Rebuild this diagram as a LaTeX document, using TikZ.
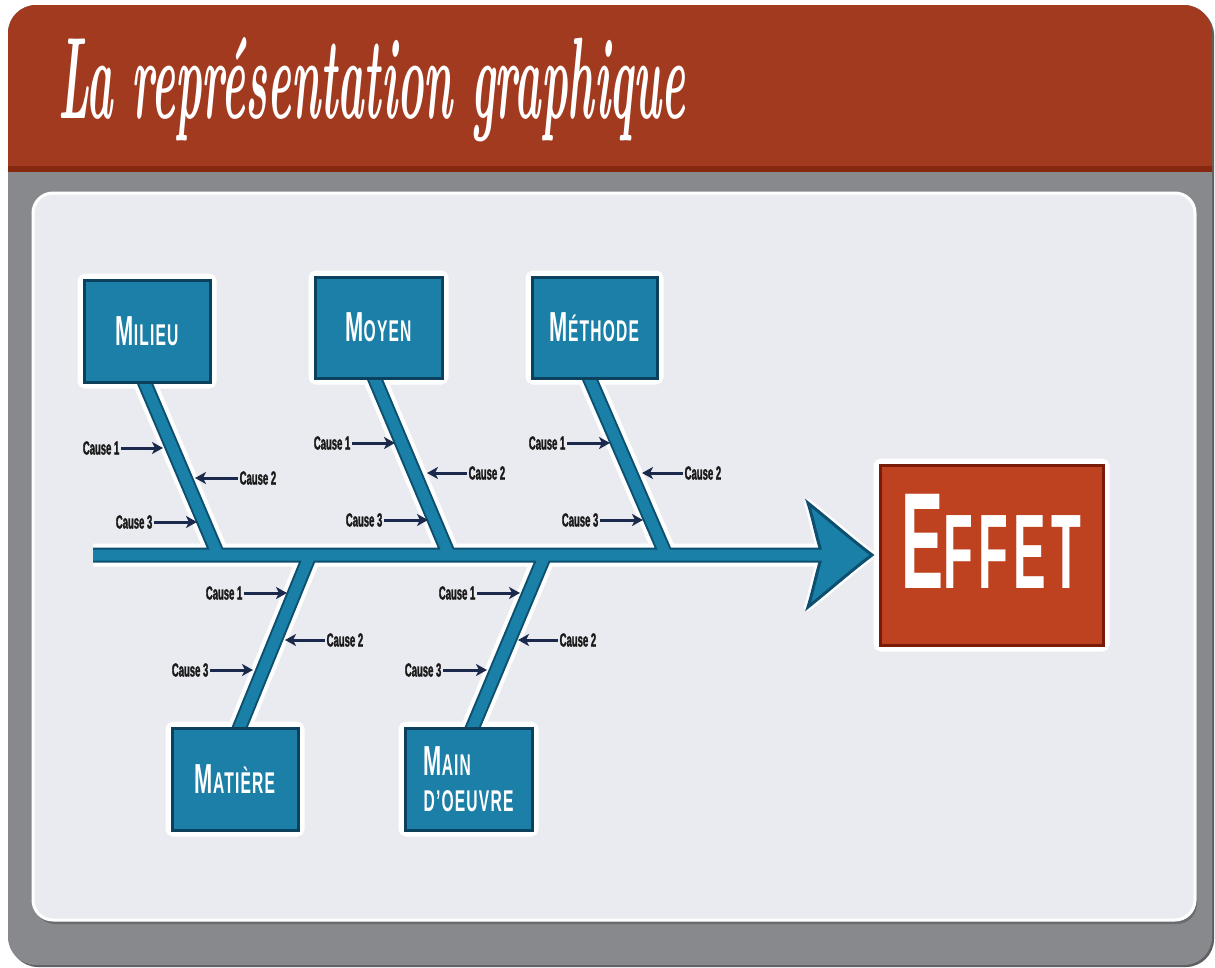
\documentclass[tikz,border=0pt]{standalone}
\usepackage[T1,TU]{fontenc}
\usepackage{fontspec}
\usepackage{graphicx}
\usetikzlibrary{arrows.meta,calc}
\newfontfamily\condf[FakeStretch=0.52,LetterSpace=4]{Liberation Sans}
\newfontfamily\causef[FakeStretch=0.5,FakeBold=1.5]{Liberation Sans}
\newfontfamily\effetf[FakeStretch=0.46,LetterSpace=5]{Liberation Sans}
\newcommand\titlefont{\bfseries\itshape}
\newcommand\boxlbl[2]{{\fontsize{42}{42}\selectfont #1}{\fontsize{30}{30}\selectfont #2}}
\pgfdeclarelayer{bg}\pgfdeclarelayer{mid}\pgfsetlayers{bg,mid,main}
\definecolor{headred}{HTML}{A23A1F}
\definecolor{headdark}{HTML}{86270F}
\definecolor{framegray}{HTML}{88898D}
\definecolor{framesh}{HTML}{5E5F62}
\definecolor{panel}{HTML}{EAEBF0}
\definecolor{panelsh}{HTML}{6A6B6F}
\definecolor{boxblue}{HTML}{1C7FA7}
\definecolor{boxedge}{HTML}{0C415E}
\definecolor{bonedark}{HTML}{0D4F6F}
\definecolor{boneblue}{HTML}{1B80A8}
\definecolor{effred}{HTML}{BF4220}
\definecolor{effedge}{HTML}{7A1A08}
\definecolor{navy}{HTML}{1B2A4C}
\definecolor{causetext}{HTML}{1A1A1A}
\newcommand\arrowhd{(822,555) .. controls (816,535) and (812,515) .. (808,503) .. controls (834,524) and (852,540) .. (872,555) .. controls (852,570) and (834,586) .. (808,607) .. controls (812,595) and (816,575) .. (822,555) -- cycle}
\newcommand\allbones[1]{\draw[#1] (tail) -- (headin)
  ($(t1)!-10pt!(j1)$) -- (j1) ($(t2)!-10pt!(j2)$) -- (j2) ($(t3)!-10pt!(j3)$) -- (j3)
  ($(t4)!-10pt!(j4)$) -- (j4) ($(t5)!-10pt!(j5)$) -- (j5);}
\newcommand\causeL[5]{%
  \node[causelbl,anchor=east] (#1) at (#2,#3) {#5};
  \coordinate (#1t) at (#4,#3);
  \draw[causearr] (#1) -- (#1t);}
\newcommand\causeR[5]{%
  \node[causelbl,anchor=west] (#1) at (#2,#3) {#5};
  \coordinate (#1t) at (#4,#3);
  \draw[causearr] (#1) -- (#1t);}
\begin{document}
\begin{tikzpicture}[x=1pt,y=-1pt,
  catbox/.style={fill=boxblue, draw=boxedge, line width=3pt, inner sep=0pt, text=white,
     font=\condf\bfseries\fontsize{30}{36}\selectfont, minimum width=126pt, minimum height=102pt},
  effbox/.style={fill=effred, draw=effedge, line width=3pt, inner sep=0pt, text=white,
     font=\effetf\bfseries, minimum width=223pt, minimum height=180pt},
  causelbl/.style={inner sep=1.5pt, text=causetext, font=\causef\bfseries\fontsize{19}{19}\selectfont},
  causearr/.style={draw=navy, line width=3pt, -{Stealth[length=11pt,width=12pt,inset=3pt]}}]
\useasboundingbox (0,0) rectangle (1215,967);
\begin{pgfonlayer}{bg}
\fill[white] (0,0) rectangle (1215,967);
\fill[framesh, rounded corners=28pt] (10,7) rectangle (1214,967);
\begin{scope}
\clip[rounded corners=28pt] (8,5) rectangle (1212,965);
\fill[framegray] (0,0) rectangle (1215,967);
\fill[headred] (0,0) rectangle (1215,172);
\fill[headdark] (0,166) rectangle (1215,172);
\end{scope}
\fill[panelsh, rounded corners=20pt] (35,197) rectangle (1197,924);
\filldraw[fill=panel, draw=white, line width=3pt, rounded corners=20pt] (33,193) rectangle (1195,920);
\end{pgfonlayer}

\node[anchor=base west, text=white, inner sep=0pt] (title) at (58,118)
  {\resizebox{627pt}{81pt}{\titlefont La représentation graphique}};

\node[catbox] (milieu) at (147,331) {\boxlbl{M}{ILIEU}};
\node[catbox, minimum width=127pt, minimum height=101pt] (moyen) at (378.5,327.5) {\boxlbl{M}{OYEN}};
\node[catbox, minimum width=125pt, minimum height=101pt] (methode) at (594.5,327.5) {\boxlbl{M}{ÉTHODE}};
\node[catbox] (matiere) at (235,779) {\boxlbl{M}{ATIÈRE}};
\node[catbox, minimum width=127pt, align=left] (main) at (468.5,779) {\boxlbl{M}{AIN}\\D’OEUVRE};
\node[effbox, text height=98pt, text depth=32pt] (effet) at (991.5,555)
  {{\fontsize{137}{137}\selectfont E}{\fontsize{106}{106}\selectfont FFET}};

\begin{pgfonlayer}{bg}
\foreach \n in {milieu,moyen,methode,matiere,main,effet}
  \draw[white, line width=10pt, rounded corners=3pt] (\n.south west) rectangle (\n.north east);
\end{pgfonlayer}

\coordinate (tail) at (93,555);
\coordinate (headin) at (835,555);
\coordinate (j1) at (218,555);
\coordinate (j2) at (449,555);
\coordinate (j3) at (666,555);
\coordinate (j4) at (310,555);
\coordinate (j5) at (545,555);
\coordinate (t1) at ([xshift=-2pt]milieu.south);
\coordinate (t2) at ([xshift=-3.5pt]moyen.south);
\coordinate (t3) at ([xshift=-4.5pt]methode.south);
\coordinate (t4) at ([xshift=5pt]matiere.north);
\coordinate (t5) at ([xshift=4.5pt]main.north);

\begin{pgfonlayer}{mid}
\allbones{white, line width=23pt}
\filldraw[white, line width=8pt, line join=round] \arrowhd;
\allbones{bonedark, line width=15pt}
\filldraw[fill=boneblue, draw=bonedark, line width=3pt] \arrowhd;
\allbones{boneblue, line width=11pt}
\end{pgfonlayer}

\causeL{mi1}{121}{448}{163}{Cause 1}
\causeR{mi2}{238}{478}{195}{Cause 2}
\causeL{mi3}{154}{522}{197}{Cause 3}
\causeL{mo1}{352}{443}{395}{Cause 1}
\causeR{mo2}{467}{473}{427}{Cause 2}
\causeL{mo3}{384}{520}{428}{Cause 3}
\causeL{me1}{567}{443}{610}{Cause 1}
\causeR{me2}{683}{473}{642}{Cause 2}
\causeL{me3}{600}{520}{643}{Cause 3}
\causeL{ma1}{244}{593}{287}{Cause 1}
\causeR{ma2}{325}{640}{285}{Cause 2}
\causeL{ma3}{210}{670}{253}{Cause 3}
\causeL{mo4}{477}{593}{520}{Cause 1}
\causeR{mo5}{558}{640}{518}{Cause 2}
\causeL{mo6}{443}{670}{487}{Cause 3}
\end{tikzpicture}
\end{document}
